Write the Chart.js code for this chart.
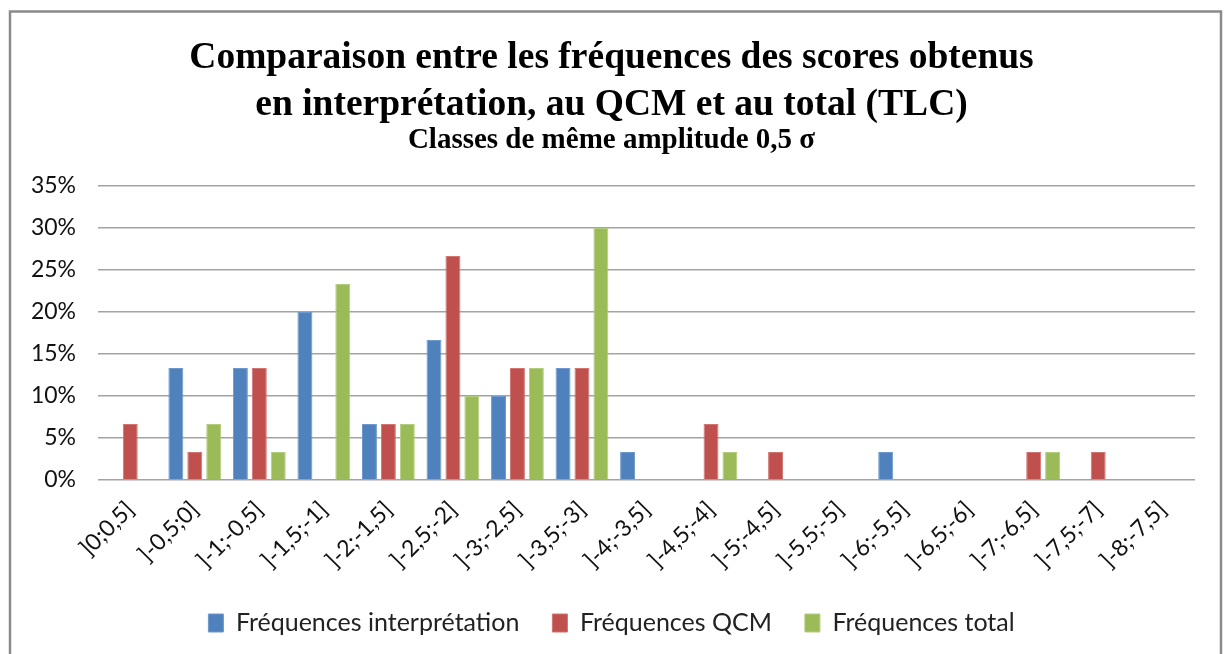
<!DOCTYPE html>
<html>
<head>
<meta charset="utf-8">
<script src="https://cdn.jsdelivr.net/npm/chart.js@4.4.1/dist/chart.umd.min.js"></script>
<style>
  html, body { margin: 0; padding: 0; background: #fff; }
  #wrap { position: relative; width: 1224px; height: 654px; }
</style>
</head>
<body>
<div id="wrap"><canvas id="c" width="1224" height="654"></canvas></div>
<script>
const categories = [']0;0,5]', ']-0,5;0]', ']-1;-0,5]', ']-1,5;-1]', ']-2;-1,5]', ']-2,5;-2]', ']-3;-2,5]', ']-3,5;-3]', ']-4;-3,5]', ']-4,5;-4]', ']-5;-4,5]', ']-5,5;-5]', ']-6;-5,5]', ']-6,5;-6]', ']-7;-6,5]', ']-7,5;-7]', ']-8;-7,5]'];
const freqInterpretation = [0, 13.33, 13.33, 20, 6.67, 16.67, 10, 13.33, 3.33, 0, 0, 0, 3.33, 0, 0, 0, 0];
const freqQCM = [6.67, 3.33, 13.33, 0, 6.67, 26.67, 13.33, 13.33, 0, 6.67, 3.33, 0, 0, 0, 3.33, 3.33, 0];
const freqTotal = [0, 6.67, 3.33, 23.33, 6.67, 10, 13.33, 30, 0, 3.33, 0, 0, 0, 0, 3.33, 0, 0];
const seriesNames = ['Fréquences interprétation', 'Fréquences QCM', 'Fréquences total'];
const titleLines = ['Comparaison entre les fréquences des scores obtenus', 'en interprétation, au QCM et au total (TLC)'];
const subtitleText = 'Classes de même amplitude 0,5 σ';
const yMax = 35, yStep = 5;

const frame = {
  id: 'frame',
  afterLayout(chart) {
    const x = chart.scales.x;
    x.bottom = chart.height;
  },
  afterDraw(chart) {
    const ctx = chart.ctx;
    ctx.save();
    ctx.strokeStyle = '#8a8a8a';
    ctx.lineWidth = 2.5;
    ctx.beginPath();
    ctx.moveTo(10, 700); ctx.lineTo(10, 11.5); ctx.lineTo(1221, 11.5); ctx.lineTo(1221, 700);
    ctx.stroke();
    ctx.restore();
  }
};

const sans = 'Lato, "Open Sans", sans-serif';
const serif = '"Liberation Serif", "Times New Roman", serif';
new Chart(document.getElementById('c'), {
  type: 'bar',
  data: {
    labels: categories,
    datasets: [
      { label: seriesNames[0], data: freqInterpretation, backgroundColor: '#4F81BD', borderColor: '#6f98cc', borderWidth: 1 },
      { label: seriesNames[1], data: freqQCM, backgroundColor: '#C0504D', borderColor: '#d27472', borderWidth: 1 },
      { label: seriesNames[2], data: freqTotal, backgroundColor: '#9BBB59', borderColor: '#b3cd7e', borderWidth: 1 }
    ]
  },
  options: {
    responsive: false,
    animation: false,
    devicePixelRatio: 1,
    categoryPercentage: 0.88,
    barPercentage: 0.79,
    layout: { padding: { left: 28, right: 29, top: 0, bottom: 8.5 } },
    plugins: {
      title: {
        display: true,
        text: titleLines,
        color: '#000',
        font: { family: serif, size: 37.5, weight: 'bold', lineHeight: 1.25 },
        padding: { top: 35, bottom: 0 }
      },
      subtitle: {
        display: true,
        text: subtitleText,
        color: '#000',
        font: { family: serif, size: 29, weight: 'bold', lineHeight: 0.8 },
        padding: { top: 0, bottom: 34 }
      },
      legend: {
        position: 'bottom',
        labels: {
          color: '#222',
          font: { family: sans, size: 25 },
          boxWidth: 15,
          boxHeight: 18,
          padding: 33
        }
      },
      tooltip: { enabled: false }
    },
    scales: {
      x: {
        grid: { display: false, drawTicks: false },
        border: { display: false },
        ticks: {
          color: '#111',
          font: { family: sans, size: 23 },
          maxRotation: 45, minRotation: 45,
          autoSkip: false,
          padding: 16
        },
        afterFit(s) { s.height = 97.5; s.paddingLeft = 0; s.paddingRight = 0; }
      },
      y: {
        min: 0, max: yMax,
        grid: { color: '#a3a3a3', lineWidth: 1.5, drawTicks: false },
        border: { display: false },
        ticks: {
          stepSize: yStep,
          color: '#111',
          font: { family: sans, size: 23 },
          padding: 22,
          callback: v => v + '%'
        },
        afterFit(s) { s.width = 70; }
      }
    }
  },
  plugins: [frame]
});
</script>
</body>
</html>
